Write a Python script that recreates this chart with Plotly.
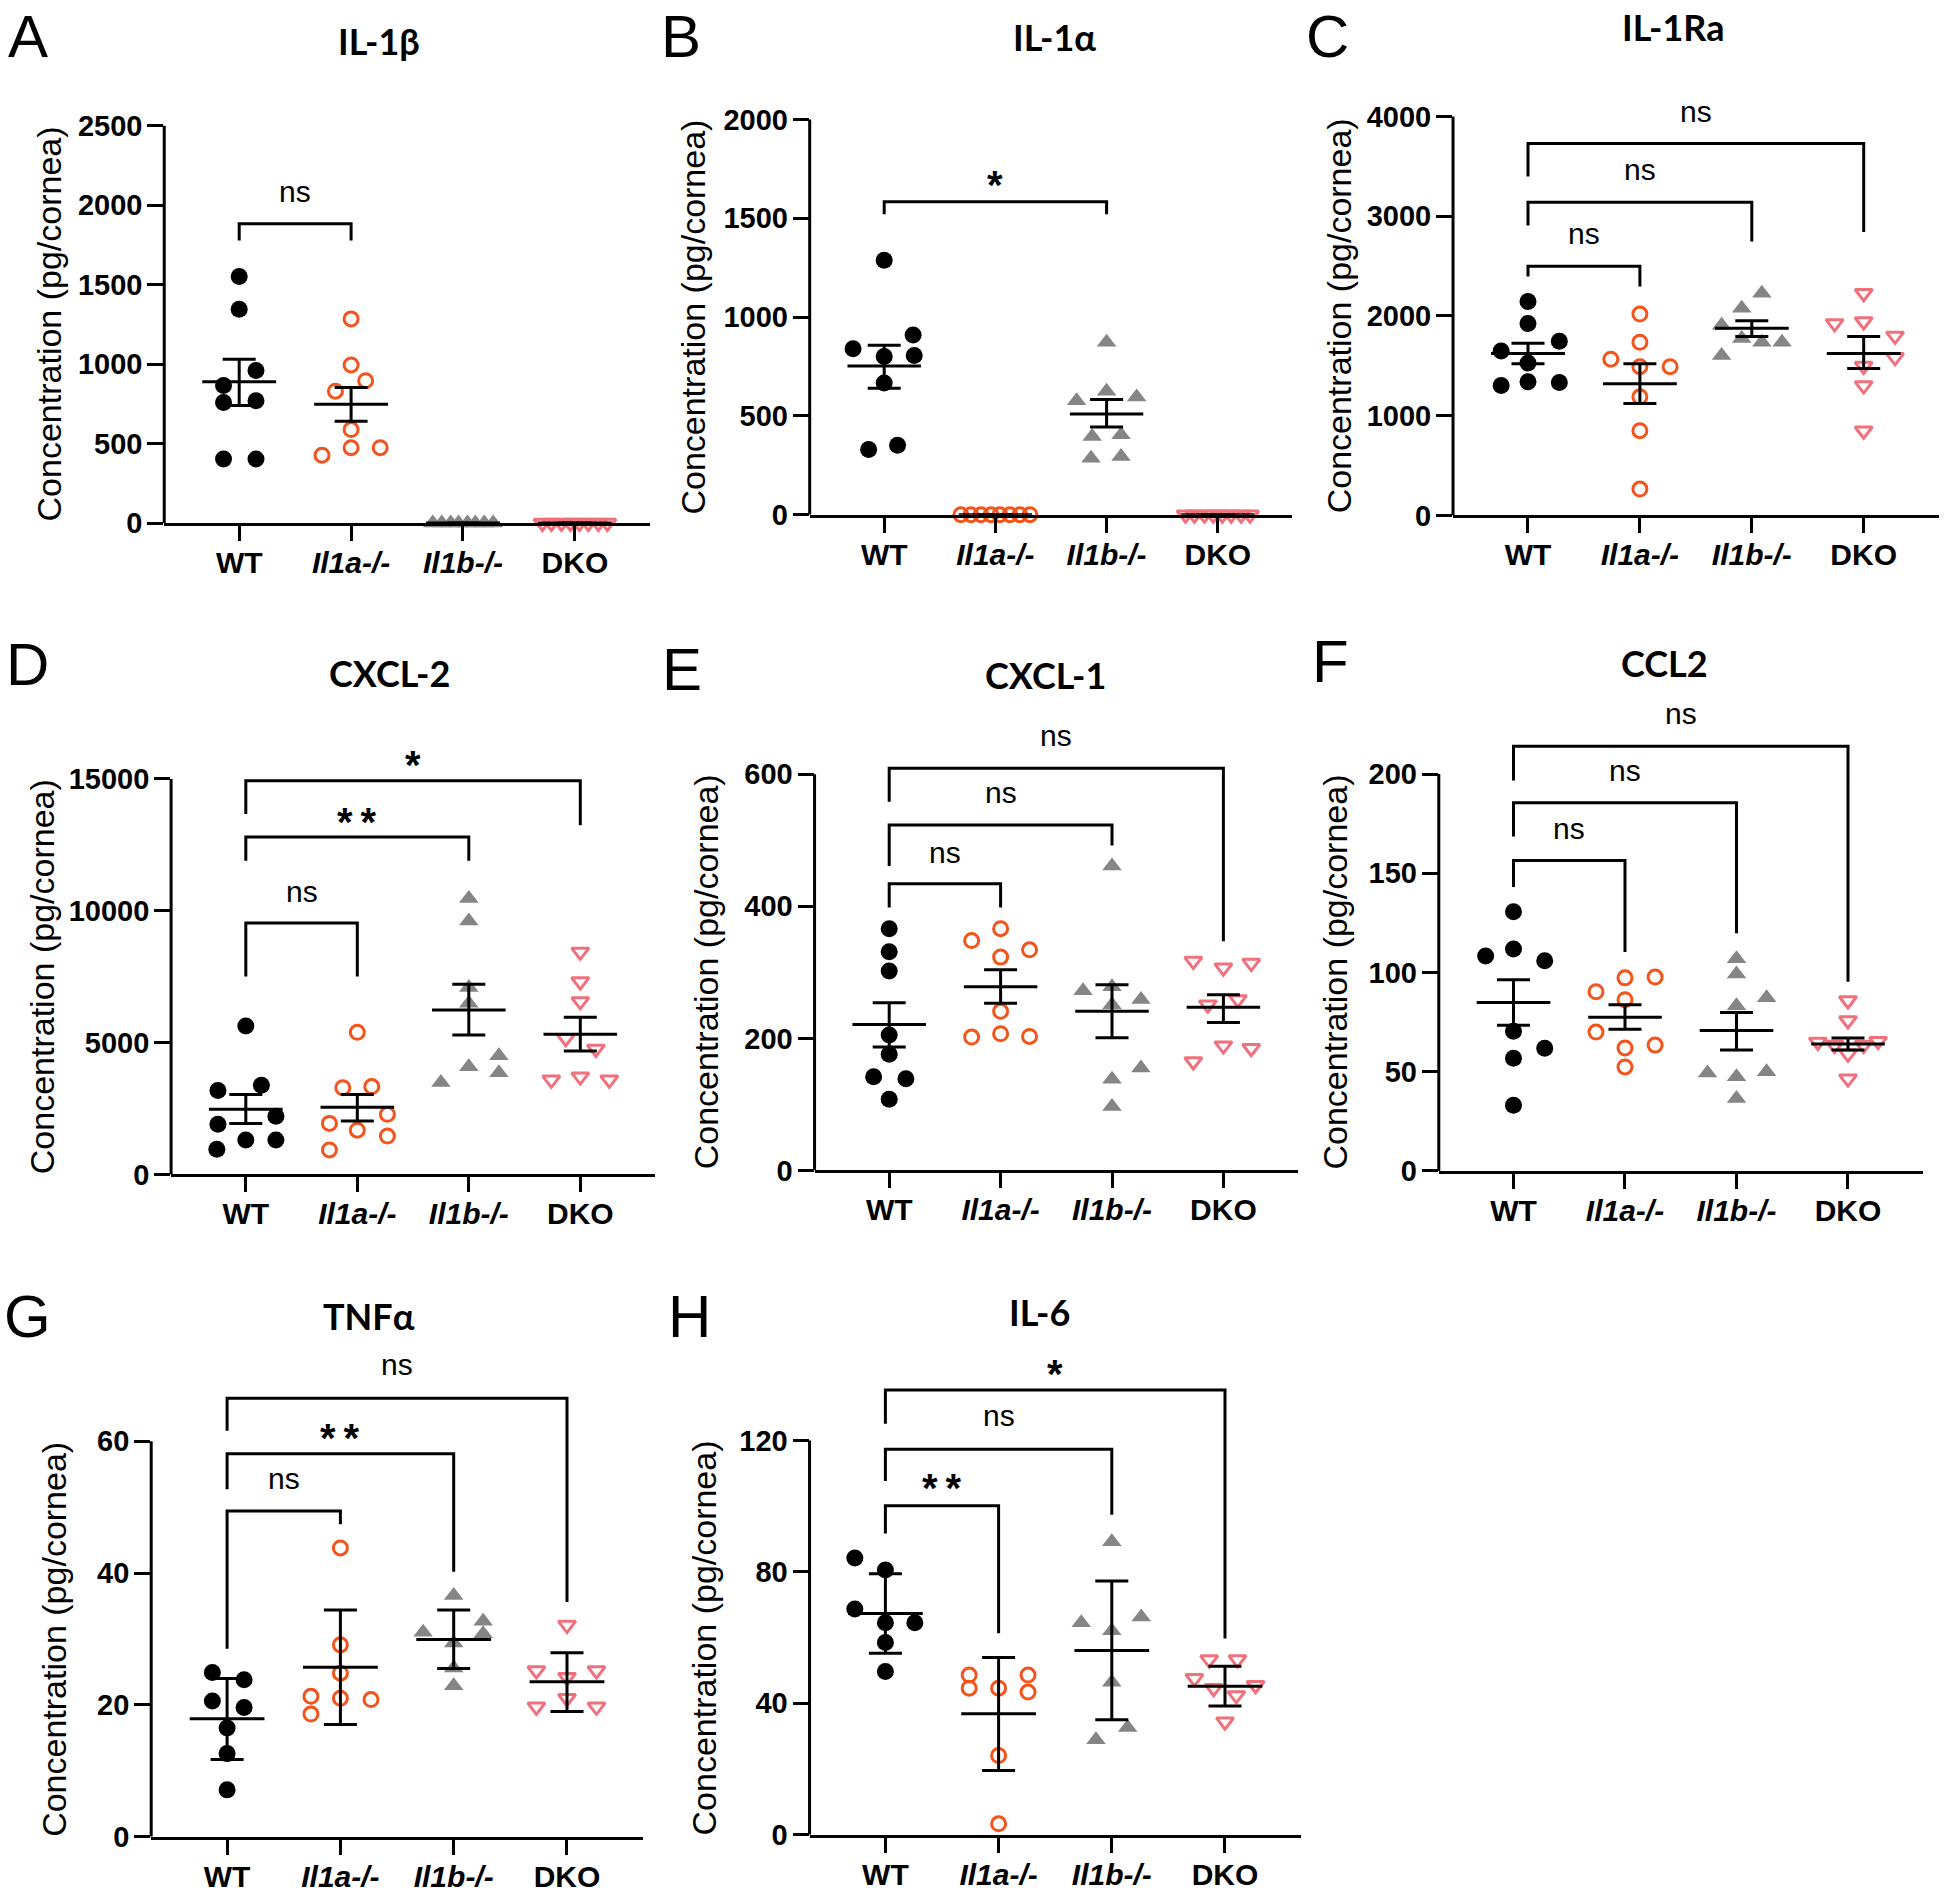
import plotly.graph_objects as go

PAGE_W, PAGE_H = 1950, 1891
FIG_W, FIG_H = 1950, 1920
# observed vertical mapping of the capture: picture_y = Y_A + Y_B * figure_y
Y_A, Y_B = 10.4, 0.985


def px_x(x):
    return x / FIG_W


def px_y(y):
    return 1 - ((y - Y_A) / Y_B) / FIG_H


GROUP_TICKTEXT = ['WT', '<i>Il1a-/-</i>', '<i>Il1b-/-</i>', 'DKO']

# ---------------- A: IL-1β ----------------
IL1B_WT = [1552, 1346, 960, 865, 770, 758, 403, 403]
IL1B_IL1A = [1285, 995, 896, 830, 588, 474, 474, 427]
IL1B_IL1B = [0, 0, 0, 0, 0, 0, 0, 0]
IL1B_DKO = [0, 0, 0, 0, 0, 0, 0, 0]
IL1B_MEAN = [889, 747, 0, 0]
IL1B_HI = [1031, 853, 0, 0]
IL1B_LO = [739, 640, 0, 0]
IL1B_SIG = [('ns', 1, 1884, 1778, 1778, 2069)]

# ---------------- B: IL-1α ----------------
IL1A_WT = [1288, 909, 840, 806, 800, 667, 352, 330]
IL1A_IL1A = [0, 0, 0, 0, 0, 0, 0, 0]
IL1A_IL1B = [872, 625, 596, 577, 405, 396, 295, 286]
IL1A_DKO = [0, 0, 0, 0, 0, 0, 0, 0]
IL1A_MEAN = [752, 0, 510, 0]
IL1A_HI = [857, 0, 583, 0]
IL1A_LO = [640, 0, 444, 0]
IL1A_SIG = [('*', 2, 1583, 1520, 1520, 1716)]

# ---------------- C: IL-1Ra ----------------
IL1RA_WT = [2144, 1925, 1747, 1649, 1528, 1340, 1332, 1302]
IL1RA_IL1A = [2019, 1736, 1566, 1491, 1491, 1189, 849, 264]
IL1RA_IL1B = [2227, 2076, 1906, 1774, 1736, 1736, 1604]
IL1RA_DKO = [2227, 1944, 1925, 1800, 1585, 1498, 1302, 849]
IL1RA_MEAN = [1623, 1321, 1876, 1623]
IL1RA_HI = [1725, 1521, 1951, 1793]
IL1RA_LO = [1521, 1121, 1793, 1472]
IL1RA_SIG = [('ns', 1, 2498, 2396, 2295, 2793),
             ('ns', 2, 3140, 2906, 2747, 3442),
             ('ns', 3, 3729, 3397, 2842, 4019)]

# ---------------- D: CXCL-2 ----------------
CXCL2_WT = [5633, 3380, 3184, 2208, 1908, 1307, 1307, 961]
CXCL2_IL1A = [5392, 3335, 3289, 2283, 1938, 1682, 1457, 931]
CXCL2_IL1B = [10469, 9613, 7090, 6489, 4506, 4085, 3860, 3485]
CXCL2_DKO = [8441, 7315, 6564, 5167, 4761, 3710, 3590, 3590]
CXCL2_MEAN = [2478, 2553, 6233, 5317]
CXCL2_HI = [3034, 3034, 7210, 5963]
CXCL2_LO = [1938, 2028, 5287, 4686]
CXCL2_SIG = [('ns', 1, 9538, 7510, 7510, 10619),
             ('**', 2, 12797, 11896, 11896, 13698),
             ('*', 3, 14930, 13668, 13248, 15876)]

# ---------------- E: CXCL-1 ----------------
CXCL1_WT = [366, 331, 302, 205, 176, 142, 139, 108]
CXCL1_IL1A = [366, 348, 334, 323, 241, 207, 203, 202]
CXCL1_IL1B = [461, 278, 272, 259, 251, 155, 138, 97]
CXCL1_DKO = [317, 314, 307, 259, 251, 189, 185, 165]
CXCL1_MEAN = [221, 278, 241, 247]
CXCL1_HI = [254, 304, 281, 266]
CXCL1_LO = [187, 253, 201, 224]
CXCL1_SIG = [('ns', 1, 434, 398, 398, 477),
             ('ns', 2, 523, 461, 492, 567),
             ('ns', 3, 609, 558, 347, 654)]

# ---------------- F: CCL2 ----------------
CCL2_WT = [130.6, 111.9, 108.3, 105.9, 70.4, 61.8, 56.8, 33.1]
CCL2_IL1A = [97.7, 97.3, 90.3, 86.3, 70.0, 63.4, 62.0, 52.4]
CCL2_IL1B = [106.9, 99.3, 87.3, 83.3, 50.0, 49.4, 47.5, 36.5]
CCL2_DKO = [85.9, 75.8, 65.4, 65.0, 63.4, 63.4, 59.0, 46.5]
CCL2_MEAN = [84.9, 77.4, 70.8, 64.0]
CCL2_HI = [96.3, 83.7, 79.8, 67.0]
CCL2_LO = [73.4, 71.4, 61.0, 61.0]
CCL2_SIG = [('ns', 1, 156.5, 143.1, 110.3, 171),
            ('ns', 2, 185.6, 168.6, 119.8, 200.5),
            ('ns', 3, 214, 196.8, 95.3, 229)]

# ---------------- G: TNFα ----------------
TNFA_WT = [24.9, 23.8, 20.6, 19.6, 16.5, 12.6, 7.1]
TNFA_IL1A = [43.8, 29.1, 24.8, 21.3, 21.0, 20.8, 18.6]
TNFA_IL1B = [36.6, 32.7, 31.0, 30.8, 29.4, 25.6, 22.9]
TNFA_DKO = [32.1, 25.2, 25.2, 24.2, 21.0, 19.7, 19.7]
TNFA_MEAN = [17.9, 25.7, 29.9, 23.5]
TNFA_HI = [24.0, 34.4, 34.4, 27.9]
TNFA_LO = [11.7, 17.0, 25.5, 19.0]
TNFA_SIG = [('ns', 1, 49.4, 28.5, 47.4, 53.9),
            ('**', 2, 58.1, 52.7, 40.2, 61.9),
            ('ns', 3, 66.5, 61.6, 35.6, 71.2)]

# ---------------- H: IL-6 ----------------
IL6_WT = [84.2, 80.6, 68.7, 64.5, 64.5, 58.5, 49.7]
IL6_IL1A = [48.6, 48.6, 44.6, 44.6, 43.4, 24.1, 3.3]
IL6_IL1B = [89.2, 66.3, 64.5, 62.1, 46.4, 32.6, 28.9]
IL6_DKO = [53.3, 53.3, 47.6, 45.5, 44.6, 42.4, 34.4]
IL6_MEAN = [67.3, 36.8, 56.1, 45.2]
IL6_HI = [79.4, 53.9, 77.2, 51.3]
IL6_LO = [55.2, 19.5, 35.0, 39.2]
IL6_SIG = [('**', 1, 100.1, 91.7, 61.3, 108.3),
           ('ns', 2, 117.3, 107.7, 97.4, 126.6),
           ('*', 3, 135.4, 125.1, 59.7, 142.9)]

# ---------------- horizontal scatter offsets (category units) ----------------
DX = {
    'A': [[0, 0, 0.15, -0.14, 0.15, -0.14, -0.14, 0.15],
          [0, 0, 0.13, -0.14, 0, 0, 0.26, -0.26],
          [-0.27, -0.19, -0.11, -0.04, 0.04, 0.11, 0.19, 0.27],
          [-0.29, -0.21, -0.12, -0.04, 0.04, 0.12, 0.21, 0.29]],
    'B': [[0, 0.26, -0.28, 0.27, 0, 0, 0.12, -0.14],
          [-0.31, -0.22, -0.13, -0.04, 0.04, 0.13, 0.22, 0.31],
          [0, 0, 0.27, -0.27, 0.13, -0.13, 0.13, -0.14],
          [-0.29, -0.21, -0.12, -0.04, 0.04, 0.12, 0.21, 0.29]],
    'C': [[0, 0, 0.28, -0.24, 0, 0, 0.28, -0.24],
          [0, 0, -0.26, 0.27, 0, 0, 0, 0],
          [0.09, -0.09, -0.27, -0.09, 0.09, 0.27, -0.27],
          [0, 0, -0.26, 0.28, 0.28, 0, 0, 0]],
    'D': [[0, 0.14, -0.25, 0.27, -0.25, 0, 0.27, -0.26],
          [0, 0.13, -0.13, 0.27, -0.25, 0, 0.27, -0.25],
          [0, 0, 0, 0, 0.27, 0, 0.27, -0.25],
          [0, 0, 0, -0.13, 0.14, 0, -0.26, 0.26]],
    'E': [[0, 0, 0, 0, 0, -0.14, 0.15, 0],
          [0, -0.26, 0.26, 0, 0, 0, 0.26, -0.26],
          [0, 0, -0.26, 0.26, 0, 0.26, 0, 0],
          [-0.27, 0.25, 0, 0.13, -0.14, 0, 0.25, -0.27]],
    'F': [[0, 0, -0.25, 0.28, 0, 0.28, 0, 0],
          [0.27, 0, -0.26, 0, -0.26, 0.27, 0, 0],
          [0, 0, 0.27, 0, 0.27, -0.26, 0, 0],
          [0, 0, 0.27, -0.27, -0.12, 0.14, 0, 0]],
    'G': [[-0.13, 0.15, -0.13, 0.15, 0, 0, 0],
          [0, 0, 0, -0.26, 0, 0.27, -0.26],
          [0, 0.26, -0.27, 0.26, 0, 0, 0],
          [0, -0.27, 0.26, 0, 0, -0.27, 0.26]],
    'H': [[-0.27, 0, -0.27, 0, 0.26, 0, 0],
          [-0.26, 0.26, -0.26, 0, 0.26, 0, 0],
          [0, 0.26, -0.27, 0, 0, 0.14, -0.14],
          [-0.14, 0.11, -0.27, 0.27, -0.1, 0.1, 0]],
}

PANELS = [
    dict(letter='A', title='IL-1β', vals=[IL1B_WT, IL1B_IL1A, IL1B_IL1B, IL1B_DKO],
         mean=IL1B_MEAN, hi=IL1B_HI, lo=IL1B_LO, sig=IL1B_SIG, ymax=2500, dtick=500),
    dict(letter='B', title='IL-1α', vals=[IL1A_WT, IL1A_IL1A, IL1A_IL1B, IL1A_DKO],
         mean=IL1A_MEAN, hi=IL1A_HI, lo=IL1A_LO, sig=IL1A_SIG, ymax=2000, dtick=500),
    dict(letter='C', title='IL-1Ra', vals=[IL1RA_WT, IL1RA_IL1A, IL1RA_IL1B, IL1RA_DKO],
         mean=IL1RA_MEAN, hi=IL1RA_HI, lo=IL1RA_LO, sig=IL1RA_SIG, ymax=4000, dtick=1000),
    dict(letter='D', title='CXCL-2', vals=[CXCL2_WT, CXCL2_IL1A, CXCL2_IL1B, CXCL2_DKO],
         mean=CXCL2_MEAN, hi=CXCL2_HI, lo=CXCL2_LO, sig=CXCL2_SIG, ymax=15000, dtick=5000),
    dict(letter='E', title='CXCL-1', vals=[CXCL1_WT, CXCL1_IL1A, CXCL1_IL1B, CXCL1_DKO],
         mean=CXCL1_MEAN, hi=CXCL1_HI, lo=CXCL1_LO, sig=CXCL1_SIG, ymax=600, dtick=200),
    dict(letter='F', title='CCL2', vals=[CCL2_WT, CCL2_IL1A, CCL2_IL1B, CCL2_DKO],
         mean=CCL2_MEAN, hi=CCL2_HI, lo=CCL2_LO, sig=CCL2_SIG, ymax=200, dtick=50),
    dict(letter='G', title='TNFα', vals=[TNFA_WT, TNFA_IL1A, TNFA_IL1B, TNFA_DKO],
         mean=TNFA_MEAN, hi=TNFA_HI, lo=TNFA_LO, sig=TNFA_SIG, ymax=60, dtick=20),
    dict(letter='H', title='IL-6', vals=[IL6_WT, IL6_IL1A, IL6_IL1B, IL6_DKO],
         mean=IL6_MEAN, hi=IL6_HI, lo=IL6_LO, sig=IL6_SIG, ymax=120, dtick=40),
]

# page-pixel geometry: WT x, category spacing, y of 0, y of top tick, y-title x, title x/y, letter x/y
GEOM = {
    'A': (239.2, 111.9, 521.2, 124.2, 49, 379, 39.5, 27.5, 34.5),
    'B': (884.2, 111.2, 512.9, 117.8, 693.5, 1054, 35.7, 681, 34.5),
    'C': (1528, 111.9, 513.6, 114.8, 1339.4, 1673, 25.5, 1327.5, 34.5),
    'D': (245.8, 111.5, 1172.4, 777, 41.5, 389.6, 671.4, 27.5, 663),
    'E': (889.2, 111.4, 1168.4, 772.2, 706, 1045.8, 673.4, 681.5, 668),
    'F': (1513.5, 111.5, 1168.8, 772.2, 1335, 1664, 661.5, 1330.7, 660),
    'G': (227.1, 113.3, 1834.3, 1439, 53.9, 369, 1313.6, 27.5, 1314.5),
    'H': (885.4, 113.2, 1832.3, 1438.3, 703.9, 1039.6, 1309.6, 689, 1314.5),
}

ORANGE = '#F2541B'
GRAY = '#858585'
PINK = '#F0707C'
MARKERS = [
    dict(symbol='circle', size=17, color='black', line=dict(width=0)),
    dict(symbol='circle-open', size=14, color=ORANGE, line=dict(width=3, color=ORANGE)),
    dict(symbol='triangle-up', size=17, color=GRAY, line=dict(width=0)),
    dict(symbol='triangle-down-open', size=15, color=PINK, line=dict(width=3, color=PINK)),
]

ARIAL = 'Liberation Sans, Arial, sans-serif'
YTICK_FONT = dict(family=ARIAL, size=29, color='black', weight='bold')
XTICK_FONT = dict(family=ARIAL, size=30, color='black', weight='bold')
X_LO, X_HI = -0.67, 3.67

fig = go.Figure()
shapes = []
annotations = []
axes_layout = {}

for k, p in enumerate(PANELS, start=1):
    wt_x, sp, y0_px, ymax_px, ytitle_x, title_x, title_y, let_x, let_y = GEOM[p['letter']]
    left = wt_x + X_LO * sp
    right = wt_x + X_HI * sp
    upp = p['ymax'] / (y0_px - ymax_px)  # data units per pixel
    top_label = max(s[5] for s in p['sig'])
    ytop = max(p['ymax'] * 1.01, top_label + 32 * upp)
    top_px = y0_px - ytop / upp

    xa = 'x' if k == 1 else f'x{k}'
    ya = 'y' if k == 1 else f'y{k}'
    axes_layout['xaxis' if k == 1 else f'xaxis{k}'] = dict(
        domain=[px_x(left), px_x(right)], range=[X_LO, X_HI], anchor=ya,
        tickvals=[0, 1, 2, 3], ticktext=GROUP_TICKTEXT, tickfont=XTICK_FONT,
        showline=True, linewidth=3, linecolor='black', ticks='outside', ticklen=15,
        tickwidth=3, tickcolor='black', showgrid=False, zeroline=False,
        ticklabelstandoff=-4, fixedrange=True)
    axes_layout['yaxis' if k == 1 else f'yaxis{k}'] = dict(
        domain=[px_y(y0_px), px_y(top_px)], range=[0, ytop], anchor=xa,
        tickvals=list(range(0, p['ymax'] + 1, p['dtick'])), tickformat='d', tickfont=YTICK_FONT,
        showline=False, ticks='outside', ticklen=16, tickwidth=3, tickcolor='black',
        showgrid=False, zeroline=False, ticklabelstandoff=-1, fixedrange=True)

    # y axis line (ends at the top tick)
    shapes.append(dict(type='line', xref=f'{xa} domain', yref=ya, x0=0, x1=0,
                       y0=0, y1=p['ymax'], line=dict(color='black', width=3)))

    # data points
    for gi, (vals, dxs) in enumerate(zip(p['vals'], DX[p['letter']])):
        fig.add_trace(go.Scatter(
            x=[gi + d for d in dxs], y=vals, mode='markers', marker=MARKERS[gi],
            xaxis=xa, yaxis=ya, hoverinfo='skip', cliponaxis=False))

    # mean and error bars
    fig.add_trace(go.Scatter(
        x=[0, 1, 2, 3], y=p['mean'], mode='markers',
        marker=dict(size=1, color='rgba(0,0,0,0)'),
        error_y=dict(type='data', symmetric=False,
                     array=[h - m for h, m in zip(p['hi'], p['mean'])],
                     arrayminus=[m - l for m, l in zip(p['mean'], p['lo'])],
                     width=16.5, thickness=3, color='black'),
        error_x=dict(type='constant', value=0.33, width=0, thickness=3, color='black'),
        xaxis=xa, yaxis=ya, hoverinfo='skip'))

    # significance brackets
    for label, j, ybar, yl, yr, ylab in p['sig']:
        fig.add_trace(go.Scatter(
            x=[0, 0, j, j], y=[yl, ybar, ybar, yr], mode='lines',
            line=dict(color='black', width=3), xaxis=xa, yaxis=ya, hoverinfo='skip'))
        if label == 'ns':
            font = dict(family=ARIAL, size=30, color='black')
            shift = 3
            txt = 'ns'
        else:
            font = dict(family=ARIAL, size=40, color='black', weight='bold')
            shift = -9
            txt = '*\u2009*' if label == '**' else '*'
        annotations.append(dict(xref=xa, yref=ya, x=j / 2, y=ylab, text=txt, showarrow=False,
                                xanchor='center', yanchor='middle', yshift=shift, font=font))

    # y axis title
    annotations.append(dict(xref='paper', yref='paper', x=px_x(ytitle_x),
                            y=px_y((y0_px + ymax_px) / 2), text='Concentration (pg/cornea)',
                            textangle=-90, showarrow=False, xanchor='center', yanchor='middle',
                            font=dict(family=ARIAL, size=34, color='black')))
    # panel title
    annotations.append(dict(xref='paper', yref='paper', x=px_x(title_x), y=px_y(title_y),
                            text=p['title'], showarrow=False, xanchor='center', yanchor='middle',
                            font=dict(family='Lato, Open Sans, sans-serif', size=36, color='black', weight='bold')))
    # panel letter
    annotations.append(dict(xref='paper', yref='paper', x=px_x(let_x), y=px_y(let_y),
                            text=p['letter'], showarrow=False, xanchor='center', yanchor='middle',
                            font=dict(family=ARIAL, size=60, color='black')))

fig.update_layout(
    width=FIG_W, height=FIG_H, margin=dict(l=0, r=0, t=0, b=0),
    paper_bgcolor='white', plot_bgcolor='white', showlegend=False,
    shapes=shapes, annotations=annotations, **axes_layout)

fig.write_html("out.html", config={'displayModeBar': False},
               post_script="document.body.style.margin='0';")
